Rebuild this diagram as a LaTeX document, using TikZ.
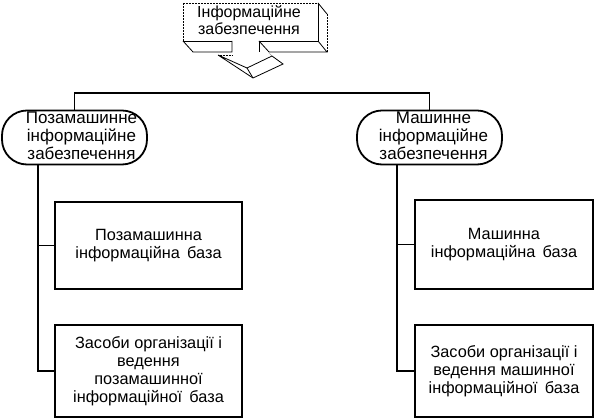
\documentclass[tikz,border=0pt]{standalone}
\usepackage{fontspec}
\setmainfont{Liberation Sans}
\begin{document}
\begin{tikzpicture}[x=1pt,y=-1pt,
  conn/.style={line width=1.8pt},
  boxnode/.style={draw,line width=1.8pt,align=center,font=\fontsize{16.3}{18}\selectfont,inner sep=0pt},
  ovalnode/.style={draw,line width=1.8pt,rounded corners=25pt,minimum width=145pt,minimum height=51pt,font=\fontsize{17}{18}\selectfont,inner sep=0pt},
  fine/.style={line width=0.8pt},
  faint/.style={line width=0.5pt,densely dotted}]
\useasboundingbox (0,0) rectangle (598,419);
% top 3D callout
\draw[faint] (318,3) -- (183,3) -- (183,41);
\draw[fine] (318,3) -- (318,41) -- (259,41);
\draw[fine] (232,41) -- (183,41);
\draw[fine] (318,3) -- (327,14);
\draw[faint] (327,14) -- (327,52);
\draw[fine] (318,41) -- (327,52) -- (269,52);
\draw[fine] (259,41) -- (269,52);
\draw[fine] (259,41) -- (259,52);
\draw[fine] (183,41) -- (193,52) -- (232,52) -- (232,41);
\draw[fine] (218,55) -- (247,68) -- (272,56) -- (283,64) -- (253,78) -- cycle;
\draw[fine] (247,68) -- (253,78);
\draw[faint] (218,55) -- (232,55);
\draw[faint] (269,53) -- (272,56);
\node[font=\fontsize{16}{17}\selectfont,align=center,inner sep=0pt] (top) at (249,20) {Інформаційне\\забезпечення};
% ovals
\node[ovalnode] (lo) at (74.5,137.5) {\hspace*{14pt}\begin{tabular}{@{}c@{}}Позамашинне\\інформаційне\\забезпечення\end{tabular}};
\node[ovalnode] (ro) at (429.5,137.5) {\hspace*{8pt}\begin{tabular}{@{}c@{}}Машинне\\інформаційне\\забезпечення\end{tabular}};
\coordinate (bus) at (0,93);
\draw[conn] (lo.north) |- (bus -| ro.north) -- (ro.north);
% boxes
\node[boxnode,minimum width=187pt,minimum height=87pt] (lb1) at (148.5,245.5) {Позамашинна\\інформаційна\, база};
\node[boxnode,minimum width=187pt,minimum height=92pt] (lb2) at (148.5,371) {Засоби організації і\\ведення\\позамашинної\\інформаційної\, база};
\node[boxnode,minimum width=178pt,minimum height=89pt] (rb1) at (504,244.5) {Машинна\\інформаційна\, база};
\node[boxnode,minimum width=178pt,minimum height=92pt] (rb2) at (504,371) {Засоби організації і\\ведення машинної\\інформаційної\, база};
\coordinate (lx) at (38,0);
\coordinate (rx) at (397,0);
\draw[conn] (lx |- lo.south) |- (lb1.west);
\draw[conn] (lx |- lo.south) |- (lb2.west);
\draw[conn] (rx |- ro.south) |- (rb1.west);
\draw[conn] (rx |- ro.south) |- (rb2.west);
\end{tikzpicture}
\end{document}
